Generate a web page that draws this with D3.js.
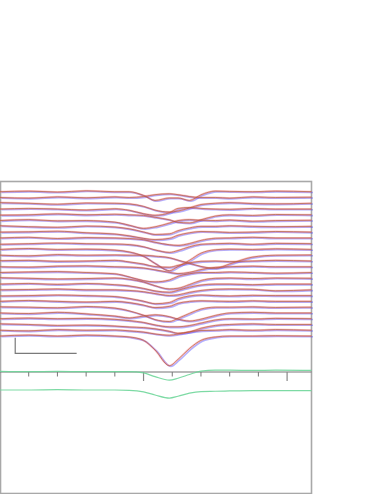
<!DOCTYPE html>
<html>
<head>
<meta charset="utf-8">
<script src="https://cdn.jsdelivr.net/npm/d3@7"></script>
<style>
  html, body { margin: 0; padding: 0; background: #fff; }
  svg { display: block; }
</style>
</head>
<body>
<script>
// sample times (ms) shared by every trace
const times = [0, 10, 20, 30, 40, 45, 50, 54, 59, 62, 66, 70, 75, 80, 88, 96, 108.5];

// single-trial traces, top to bottom (uV, positive up)
const trials = [
  [0, 0.2, -0.1, 0.3, 0, 0, -1.2, -2.8, -2.0, -2.0, -2.8, -1.0, 0.2, 0.1, 0, 0.2, 0],
  [0, -0.2, 0.2, -0.1, 0.2, 0, 0.3, 0.9, 1.2, 0.9, 0.3, 0, 0, -0.2, 0.2, 0, 0.1],
  [0.2, 0, -0.3, 0.1, 0, -0.2, -1.0, -2.2, -2.8, -2.5, -1.5, -0.4, 0, 0.2, -0.1, -0.2, 0],
  [0, 0.2, 0, -0.3, 0.1, -0.4, -1.5, -2.0, -1.2, 0.2, 0.5, 0.2, 0, -0.1, 0.2, 0, 0],
  [-0.1, 0, 0.3, 0, 0.2, 0, -0.2, -0.8, -1.6, -2.4, -2.6, -1.6, -0.4, 0, -0.2, 0.1, 0],
  [0, 0.3, -0.1, 0, -0.5, -1.5, -2.5, -2.0, -0.8, 0, 0.3, 0.1, 0, 0.2, -0.2, 0, 0.1],
  [0.2, -0.1, -0.3, 0.1, -0.2, -0.8, -1.8, -2.6, -2.4, -1.4, -0.5, 0, 0, 0.2, 0, -0.1, 0],
  [0, 0.1, 0.3, -0.2, -0.6, -1.2, -2.0, -2.4, -2.0, -1.0, -0.2, 0.2, 0.1, -0.1, 0, 0.2, 0],
  [0, 0.2, -0.2, 0.1, 0, -0.2, -0.6, -1.4, -2.2, -2.4, -1.8, -0.8, -0.1, 0, 0.2, 0, 0],
  [-0.2, 0, 0.2, 0, -0.1, -0.3, -1.0, -2.0, -2.8, -2.2, -1.0, -0.2, 0, 0.1, -0.2, 0.1, 0],
  [0, 0.3, 0, 0.1, -0.2, -0.8, -2.2, -4.5, -6.8, -5.5, -3.5, -1.2, -0.1, 0.1, 0, 0.2, 0],
  [0, -0.2, 0.2, 0, 0.1, 0, 0, -0.3, -0.8, -1.6, -2.6, -3.6, -4.2, -2.8, -0.6, 0, 0.1],
  [0.1, 0.2, -0.1, 0, 0.2, -0.3, -1.0, -1.8, -2.0, -1.4, -0.6, -0.1, 0, -0.2, 0, 0.2, 0],
  [0, -0.1, 0.2, 0.3, 0, -0.1, -0.4, -1.0, -1.8, -2.2, -1.8, -0.9, -0.2, 0, 0.2, 0, 0],
  [0, 0.2, 0.3, 0, -0.4, -1.4, -2.6, -3.0, -2.4, -1.2, -0.4, 0, 0, 0.2, 0, -0.2, 0],
  [0.2, 0, -0.2, -0.1, 0.1, -0.3, -1.2, -2.4, -3.4, -3.2, -2.0, -0.7, 0, 0.1, -0.1, 0.1, 0],
  [0, 0.2, -0.1, 0.2, -0.2, -0.6, -1.4, -2.2, -2.6, -2.0, -1.0, -0.3, 0, 0, -0.2, 0, 0],
  [0, 0.1, 0.3, 0, 0, -0.2, -0.6, -1.2, -1.8, -1.6, -0.8, -0.2, 0.2, 0.3, 0.2, -0.3, 0],
  [-0.1, 0, 0.2, 0, -0.3, -0.9, -1.8, -2.6, -2.2, -1.0, -0.1, 0.2, 0, -0.1, 0.1, 0, 0],
  [0, 0.3, 0, -0.2, 0, -0.4, -1.2, -2.0, -1.6, -0.6, 0, 0.2, 0.1, 0, 0.2, 0, 0],
  [0.1, 0, -0.2, 0.2, -0.3, -1.2, -2.6, -4.0, -4.6, -3.6, -2.0, -0.6, 0, 0, 0.1, -0.1, 0],
  [0, -0.2, 0.2, -0.3, -1.0, -1.6, -1.0, -0.6, -1.2, -2.0, -2.6, -2.0, -0.8, 0, 0.2, 0, 0],
  [0, 0.2, 0, 0.1, -0.2, -0.6, -1.2, -2.0, -2.6, -2.6, -2.2, -1.4, -0.4, 0, -0.1, 0.1, 0],
  [0.2, 0, -0.3, -0.2, -0.5, -0.8, -1.0, -1.4, -2.2, -2.8, -2.4, -1.2, -0.3, 0, 0.2, 0, 0],
  [0, -0.2, 0.2, 0, 0.1, -0.2, -0.6, -1.2, -1.6, -1.2, -0.5, -0.1, 0, 0.2, 0, 0.2, 0],
  [0, 0.3, 0, 0.3, 0, -0.3, -1.4, -4.5, -9.5, -7.5, -4.0, -1.4, -0.3, 0, 0, 0.1, 0]
];

// summary traces under the axis
const grandAvg = [0.2, 0.1, 0.2, 0.1, 0.1, 0.1, -0.3, -1.5, -2.6, -2.0, -0.8, 0.3, 0.6, 0.6, 0.5, 0.6, 0.5];
const meanAvg  = [0, 0, 0.1, 0, 0, -0.1, -0.6, -1.6, -2.6, -2.0, -1.0, -0.5, -0.4, -0.3, -0.2, -0.2, -0.2];

const minorTicks = [10, 20, 30, 40, 60, 70, 80, 90];
const majorTicks = [50, 100];
const scaleBar = { t: 5.3, dur: 21.4, amp: 5 };

const W = 382, H = 494;
const svg = d3.select("body").append("svg")
  .attr("width", W)
  .attr("height", H);

const frame = { x0: 0.5, x1: 311.5, y0: 181.5, y1: 493.5 };

const x = d3.scaleLinear().domain([0, 108.5]).range([0, 311.5]);
const row = d3.scalePoint().domain(d3.range(trials.length)).range([191.7, 336]);
const amp = d3.scaleLinear().domain([-10, 10]).range([31.2, -31.2]);
const sumRow = d3.scalePoint().domain(["grand", "mean"]).range([372, 390]);

svg.append("rect")
  .attr("x", frame.x0).attr("y", frame.y0)
  .attr("width", frame.x1 - frame.x0).attr("height", frame.y1 - frame.y0)
  .attr("fill", "none")
  .attr("stroke", "#a8a8a8")
  .attr("stroke-width", 1.6);

const lineAt = base => d3.line()
  .x((d, i) => x(times[i]))
  .y(d => base + amp(d))
  .curve(d3.curveMonotoneX);

const plot = svg.append("g");

// blue trace, slightly ahead of the red one
plot.append("g")
  .attr("transform", "translate(1.5,0.8)")
  .selectAll("path")
  .data(trials)
  .join("path")
  .attr("d", (d, i) => lineAt(row(i))(d))
  .attr("fill", "none")
  .attr("stroke", "#4848ff")
  .attr("stroke-opacity", 0.42)
  .attr("stroke-width", 1.6);

plot.append("g")
  .selectAll("path")
  .data(trials)
  .join("path")
  .attr("d", (d, i) => lineAt(row(i))(d))
  .attr("fill", "none")
  .attr("stroke", "#ff5a6a")
  .attr("stroke-opacity", 0.35)
  .attr("stroke-width", 2);

plot.append("g")
  .selectAll("path")
  .data(trials)
  .join("path")
  .attr("d", (d, i) => lineAt(row(i))(d))
  .attr("fill", "none")
  .attr("stroke", "#b0603a")
  .attr("stroke-opacity", 0.85)
  .attr("stroke-width", 0.8);

// scale bar
const sbTop = row(trials.length - 1) + 1.7;
const sbBottom = sbTop + (amp(0) - amp(scaleBar.amp));
svg.append("path")
  .attr("d", `M${x(scaleBar.t)},${sbTop}V${sbBottom}H${x(scaleBar.t + scaleBar.dur)}`)
  .attr("fill", "none")
  .attr("stroke", "#7a7a7a")
  .attr("stroke-width", 1.2);

// time axis
const axisG = svg.append("g").attr("transform", `translate(0,${sumRow("grand")})`);
axisG.append("line")
  .attr("x1", x(0)).attr("x2", x(108.5))
  .attr("stroke", "#777").attr("stroke-width", 1.2);
axisG.selectAll(".minor")
  .data(minorTicks)
  .join("line")
  .attr("x1", d => x(d)).attr("x2", d => x(d))
  .attr("y1", 0).attr("y2", 4.5)
  .attr("stroke", "#777").attr("stroke-width", 1);
axisG.selectAll(".major")
  .data(majorTicks)
  .join("line")
  .attr("x1", d => x(d)).attr("x2", d => x(d))
  .attr("y1", 0).attr("y2", 9)
  .attr("stroke", "#888").attr("stroke-width", 1.2);

// summary traces
svg.selectAll(".sum")
  .data([["grand", grandAvg], ["mean", meanAvg]])
  .join("path")
  .attr("d", d => lineAt(sumRow(d[0]))(d[1]))
  .attr("fill", "none")
  .attr("stroke", "#6fd69a")
  .attr("stroke-opacity", 0.9)
  .attr("stroke-width", 1.2);
</script>
</body>
</html>
